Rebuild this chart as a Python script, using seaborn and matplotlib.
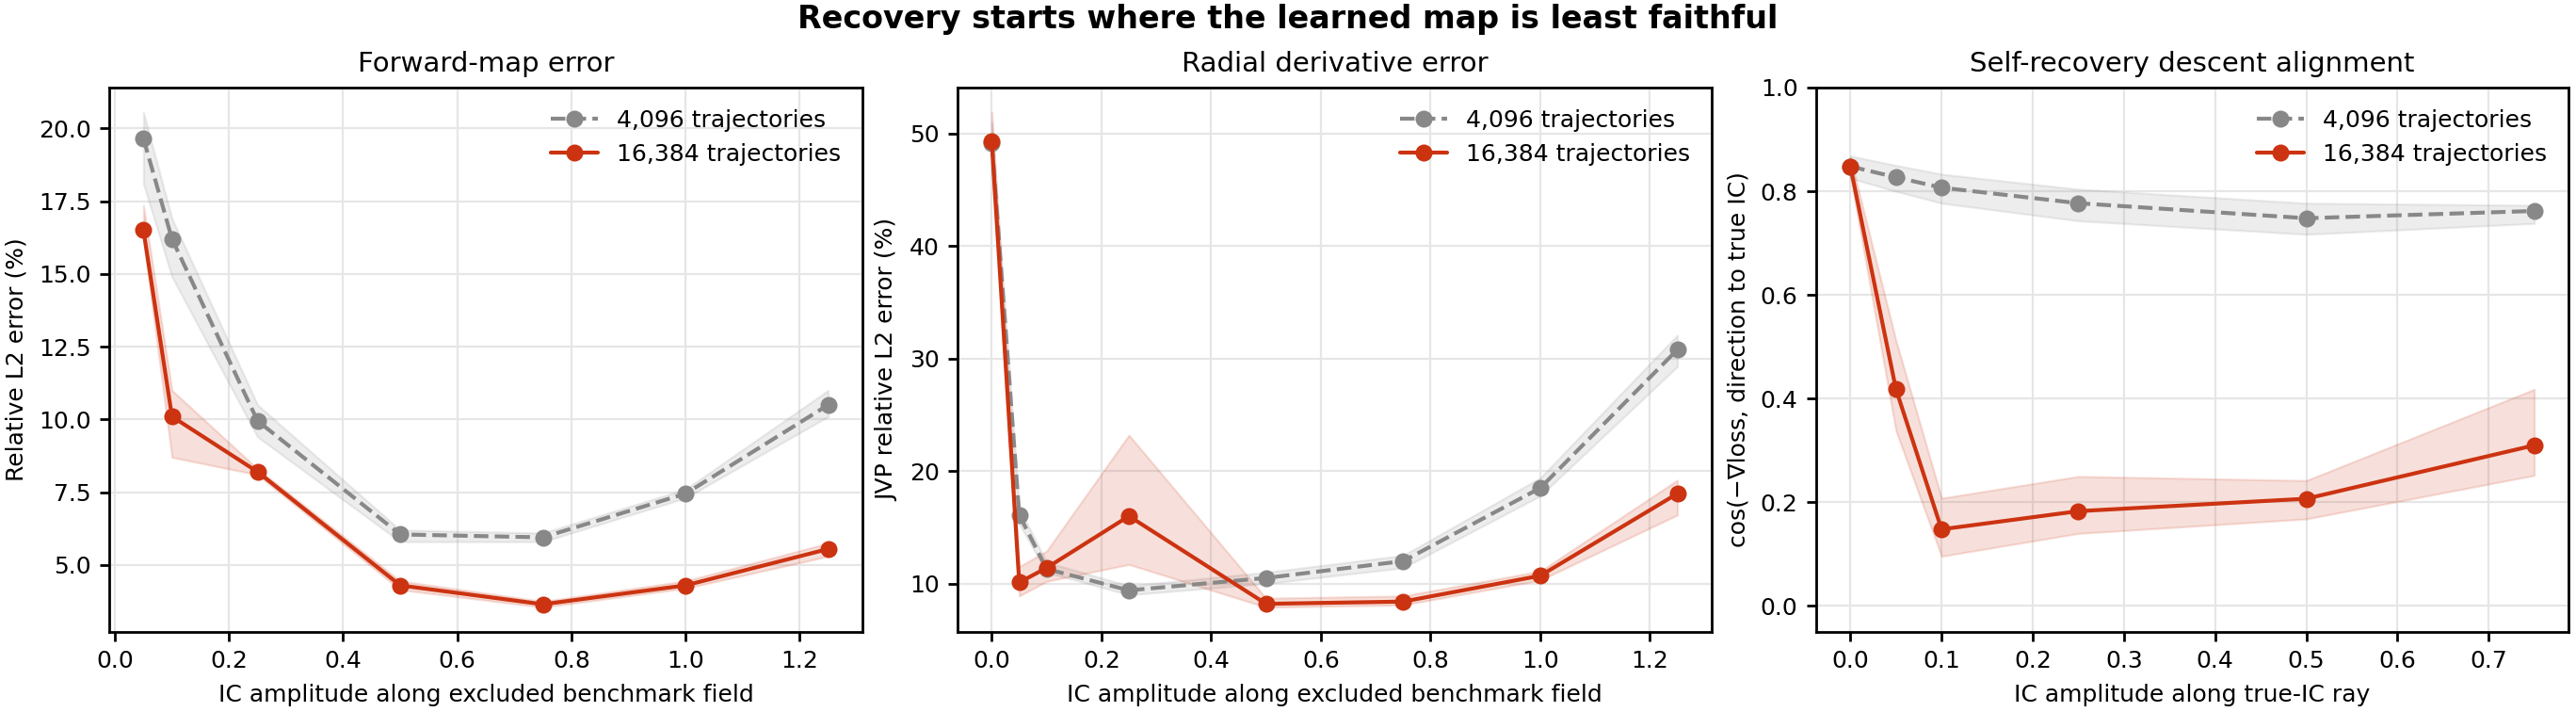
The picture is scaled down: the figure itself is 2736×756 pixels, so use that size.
import numpy as np
import pandas as pd
import seaborn as sns
import matplotlib
matplotlib.use("Agg")
import matplotlib.pyplot as plt

# values
labels = ["4,096 trajectories", "16,384 trajectories"]

fwd_x = [0.05, 0.1, 0.25, 0.5, 0.75, 1.0, 1.25]
fwd_small = [19.65, 16.2, 9.95, 6.05, 5.95, 7.45, 10.5]
fwd_small_lo = [18.1, 14.9, 9.4, 5.8, 5.8, 7.3, 10.1]
fwd_small_hi = [20.55, 16.9, 10.5, 6.2, 6.1, 7.6, 11.0]
fwd_large = [16.5, 10.1, 8.2, 4.3, 3.65, 4.3, 5.55]
fwd_large_lo = [16.2, 8.7, 8.1, 4.15, 3.55, 4.2, 5.3]
fwd_large_hi = [17.35, 11.0, 8.3, 4.45, 3.75, 4.45, 5.75]

jvp_x = [0.0, 0.05, 0.1, 0.25, 0.5, 0.75, 1.0, 1.25]
jvp_small = [49.2, 16.1, 11.3, 9.4, 10.5, 12.0, 18.5, 30.8]
jvp_small_lo = [47.5, 15.3, 11.0, 9.0, 10.0, 11.4, 17.8, 29.3]
jvp_small_hi = [51.0, 16.7, 11.9, 9.8, 11.0, 12.5, 19.4, 32.1]
jvp_large = [49.3, 10.1, 11.4, 16.0, 8.2, 8.4, 10.7, 18.0]
jvp_large_lo = [47.0, 8.9, 10.2, 11.7, 7.9, 8.1, 10.3, 16.1]
jvp_large_hi = [51.9, 11.5, 12.9, 23.2, 8.7, 8.9, 11.1, 19.2]

sr_x = [0.0, 0.05, 0.1, 0.25, 0.5, 0.75]
sr_small = [0.848, 0.827, 0.807, 0.777, 0.748, 0.762]
sr_small_lo = [0.825, 0.800, 0.777, 0.743, 0.717, 0.738]
sr_small_hi = [0.868, 0.850, 0.833, 0.804, 0.777, 0.773]
sr_large = [0.848, 0.418, 0.148, 0.183, 0.207, 0.310]
sr_large_lo = [0.830, 0.338, 0.096, 0.140, 0.168, 0.252]
sr_large_hi = [0.865, 0.512, 0.208, 0.250, 0.242, 0.418]

GRAY = "#888888"
RED = "#cc3311"

sns.set_theme(style="ticks")
plt.rcParams["font.family"] = ["DejaVu Sans"]
plt.rcParams.update({
    "axes.edgecolor": "black",
    "axes.linewidth": 1.0,
    "text.color": "black",
    "axes.labelcolor": "black",
    "xtick.color": "black",
    "ytick.color": "black",
})

fig = plt.figure(figsize=(13.68, 3.78), dpi=200)
W, H = 2736, 756
boxes = [(116, 916), (1017, 1818), (1929, 2728)]
top, bottom = 93, 671
axes = [fig.add_axes([l / W, 1 - bottom / H, (r - l) / W, (bottom - top) / H]) for l, r in boxes]

panels = [
    dict(x=fwd_x, s=(fwd_small, fwd_small_lo, fwd_small_hi), b=(fwd_large, fwd_large_lo, fwd_large_hi),
         title="Forward-map error", xlabel="IC amplitude along excluded benchmark field",
         ylabel="Relative L2 error (%)"),
    dict(x=jvp_x, s=(jvp_small, jvp_small_lo, jvp_small_hi), b=(jvp_large, jvp_large_lo, jvp_large_hi),
         title="Radial derivative error", xlabel="IC amplitude along excluded benchmark field",
         ylabel="JVP relative L2 error (%)"),
    dict(x=sr_x, s=(sr_small, sr_small_lo, sr_small_hi), b=(sr_large, sr_large_lo, sr_large_hi),
         title="Self-recovery descent alignment", xlabel="IC amplitude along true-IC ray",
         ylabel="cos(\u2212\u2207loss, direction to true IC)"),
]

for ax, p in zip(axes, panels):
    for (mean, lo, hi), color, ls, lab in [(p["s"], GRAY, "--", labels[0]), (p["b"], RED, "-", labels[1])]:
        df = pd.DataFrame({"x": p["x"], "y": mean})
        ax.fill_between(p["x"], lo, hi, color=color, alpha=0.15, linewidth=0.8)
        sns.lineplot(data=df, x="x", y="y", ax=ax, color=color, linestyle=ls, marker="o",
                     markersize=6.5, markeredgewidth=0, linewidth=1.5, label=lab)
    ax.grid(True, color="#e6e6e6", linewidth=0.8)
    ax.set_axisbelow(True)
    ax.set_title(p["title"], fontsize=10.5)
    ax.set_xlabel(p["xlabel"], fontsize=9)
    ax.set_ylabel(p["ylabel"], fontsize=9)
    ax.tick_params(labelsize=9, width=1.0, length=3.5)
    ax.legend(loc="upper right", frameon=False, fontsize=9)
    for sp in ax.spines.values():
        sp.set_visible(True)
        sp.set_color("black")

axes[2].set_ylim(-0.05, 1.0)

fig.suptitle("Recovery starts where the learned map is least faithful",
             fontsize=12, fontweight="bold", y=0.995, va="top")
fig.savefig("out.png", dpi=200)
